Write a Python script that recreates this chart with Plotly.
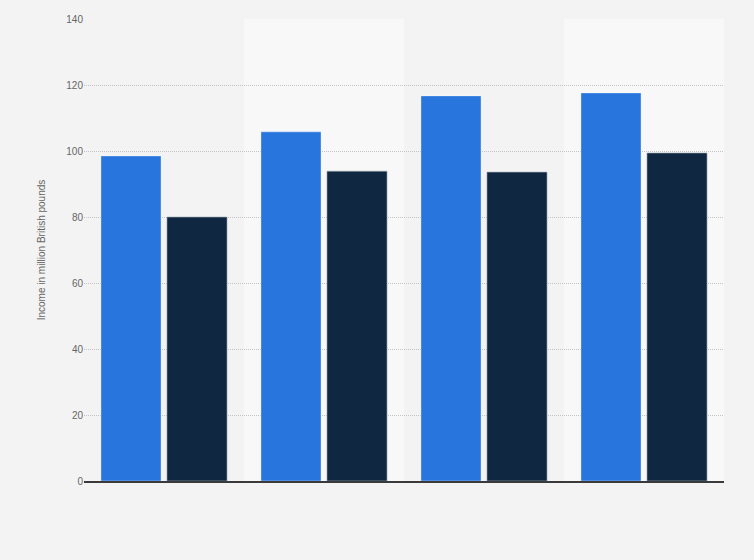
import plotly.graph_objects as go

# categories are not labelled in the source chart
categories = ["Q1", "Q2", "Q3", "Q4"]
income_a = [98.5, 105.8, 116.7, 117.6]
income_b = [80.0, 93.9, 93.6, 99.4]
y_ticks = [0, 20, 40, 60, 80, 100, 120, 140]

fig = go.Figure()
fig.add_trace(go.Bar(x=categories, y=income_a, name="A",
                     marker=dict(color="#2876dd", line=dict(color="rgba(255,255,255,0.35)", width=1))))
fig.add_trace(go.Bar(x=categories, y=income_b, name="B",
                     marker=dict(color="#0f2740", line=dict(color="rgba(160,170,180,0.6)", width=1))))

# alternating column bands
for i in range(len(categories)):
    if i % 2 == 1:
        fig.add_shape(type="rect", xref="x", yref="paper", x0=i - 0.5, x1=i + 0.5,
                      y0=0, y1=1, fillcolor="#f8f8f8", line=dict(width=0), layer="below")

fig.update_layout(
    width=754, height=560,
    margin=dict(l=84, r=30, t=19, b=79),
    paper_bgcolor="#f3f3f3", plot_bgcolor="#f3f3f3",
    barmode="group", bargap=0.175, bargroupgap=0.09,
    showlegend=False,
    font=dict(family="Liberation Sans, Arial, sans-serif", size=11, color="#666"),
)
fig.update_xaxes(showticklabels=False, showgrid=False, showline=True,
                 linecolor="#3a3a3a", linewidth=1.5, ticks="")
fig.update_yaxes(range=[0, 140], tickvals=y_ticks, showgrid=True, gridcolor="#c4c4c4",
                 griddash="1px,1px", gridwidth=1, zeroline=False, ticks="", ticklen=0,
                 tickfont=dict(size=10, color="#666"),
                 title=dict(text="Income in million British pounds", font=dict(size=10, color="#666"),
                            standoff=18))

fig.write_html("out.html", config={"displayModeBar": False},
               post_script="document.body.style.margin='0';")
